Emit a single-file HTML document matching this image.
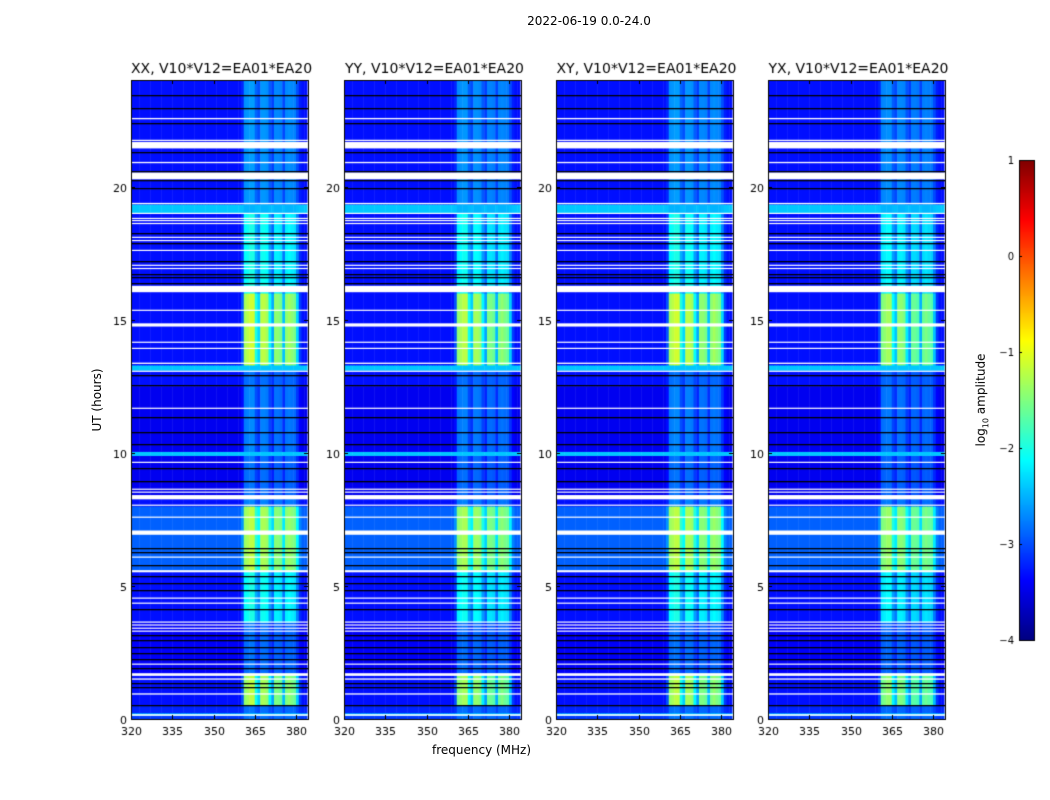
<!DOCTYPE html>
<html><head><meta charset="utf-8">
<style>
body{margin:0;background:#fff;}
#wrap{position:relative;width:1050px;height:800px;overflow:hidden;background:#fff;font-family:"DejaVu Sans","Liberation Sans",sans-serif;}
canvas{position:absolute;left:0;top:0;}
.t{position:absolute;white-space:nowrap;color:#000;}
</style></head>
<body>
<div id="wrap">
<canvas id="cv" width="1050" height="800"></canvas>
<div class="t" style="left:0;width:1178px;text-align:center;top:14px;font-size:12px">2022-06-19 0.0-24.0</div>
<div class="t" style="left:97px;top:400px;font-size:12px;transform:translate(-50%,-50%) rotate(-90deg);transform-origin:center">UT (hours)</div>
<div class="t" style="left:432px;top:743px;font-size:12px">frequency (MHz)</div>
<div class="t" style="left:982px;top:400px;font-size:12px;transform:translate(-50%,-50%) rotate(-90deg)">log<sub style="font-size:8px">10</sub> amplitude</div>
</div>
<script>
// ---- data ----
const panelTitles=["XX, V10*V12=EA01*EA20","YY, V10*V12=EA01*EA20","XY, V10*V12=EA01*EA20","YX, V10*V12=EA01*EA20"];
const panelBandScale=[1.0,0.95,1.0,0.9];
const freqTicks=[320,335,350,365,380];
const timeTicks=[0,5,10,15,20];
const cbTicks=[1,0,-1,-2,-3,-4];
const channels=[320,321,322,323,324,325,326,327,328,329,330,331,332,333,334,335,336,337,338,339,340,341,342,343,344,345,346,347,348,349,350,351,352,353,354,355,356,357,358,359,360,361,362,363,364,365,366,367,368,369,370,371,372,373,374,375,376,377,378,379,380,381,382,383];
const bandWeight=[0,0,0,0,0,0,0,0,0,0,0,0,0,0,0,0,0,0,0,0,0,0,0,0,0,0,0,0,0,0,0,0,0,0,0,0,0,0,0,0,0.15,0.9,0.95,1,1,0.6,0.45,0.95,0.95,0.9,0.55,0.35,0.85,0.85,0.8,0.4,0.85,0.9,0.85,0.8,0.45,0.1,0,0];
// time segments: [startUT, endUT, baseLog, bandLog]
const segStart=[0,0.15,0.23,0.53,1.73,3.64,5.59,8.0,8.4,9.9,10.05,12.5,13.1,13.3,16.0,16.25,19.02,19.34];
const segEnd=[0.15,0.23,0.53,1.73,3.64,5.59,8.0,8.4,9.9,10.05,12.5,13.1,13.3,16.0,16.25,19.02,19.34,24];
const segBase=[-3.1,-2.3,-3.2,-3.3,-3.4,-3.3,-2.9,-3.3,-3.45,-2.4,-3.45,-3.3,-2.4,-3.3,-3.3,-3.3,-2.4,-3.3];
const segBand=[-2.8,-2.3,-2.8,-1.2,-2.8,-2.0,-1.2,-2.7,-2.8,-2.4,-2.7,-2.8,-2.4,-1.1,-2.0,-2.0,-2.5,-2.6];
const whiteT=[0.15,0.94,1.50,1.67,2.06,3.30,3.41,3.53,3.64,4.35,4.54,5.55,6.08,7.0,7.58,8.03,8.33,8.52,8.63,9.64,11.67,13.06,13.36,13.92,14.15,14.8,15.35,16.15,17.04,16.92,17.60,17.97,18.09,18.61,18.72,18.80,18.99,19.36,20.4,20.90,21.55,21.73,22.55];
const whiteH=[0.06,0.05,0.05,0.1,0.04,0.04,0.04,0.04,0.04,0.04,0.04,0.08,0.04,0.16,0.04,0.04,0.16,0.04,0.04,0.04,0.04,0.04,0.05,0.04,0.04,0.12,0.04,0.24,0.04,0.04,0.04,0.04,0.04,0.04,0.04,0.04,0.04,0.05,0.26,0.05,0.24,0.05,0.05];
const blackT=[0.53,1.20,1.35,1.91,2.25,2.48,2.70,2.96,3.15,4.13,4.84,5.10,5.37,5.78,6.27,6.42,8.93,9.42,10.32,10.77,11.33,12.53,12.91,16.37,16.59,16.70,17.22,17.86,18.27,19.96,20.23,20.60,21.28,22.40,22.96,23.45];
// ---- drawing ----
const cv=document.getElementById('cv');const ctx=cv.getContext('2d');
const panelX=[131,344,556,768];const PW=177,PT=80,PH=639;
const FONT='"DejaVu Sans","Liberation Sans",sans-serif';
function jet(v){v=Math.max(0,Math.min(1,v));
 const c=x=>Math.max(0,Math.min(1,x));
 const r=c(1.5-Math.abs(4*v-3)),g=c(1.5-Math.abs(4*v-2)),b=c(1.5-Math.abs(4*v-1));
 return 'rgb('+Math.round(r*255)+','+Math.round(g*255)+','+Math.round(b*255)+')';}
const norm=l=>(l+4)/5;
const yOf=t=>PT+PH-t*(PH/24);
panelX.forEach((L,p)=>{
 const xOf=f=>L+(f-320)*2.75;
 for(let s=0;s<segStart.length;s++){
  const y0=yOf(segEnd[s]),y1=yOf(segStart[s]);
  for(let c=0;c<channels.length;c++){
   const band=segBase[s]+(segBand[s]-segBase[s])*panelBandScale[p];
   const v=segBase[s]+bandWeight[c]*(band-segBase[s]);
   ctx.fillStyle=jet(norm(v));
   const x0=xOf(channels[c]),x1=Math.min(L+PW,xOf(channels[c]+1));
   ctx.fillRect(x0,y0,x1-x0+0.5,y1-y0+0.5);
  }
 }
 ctx.fillStyle='#fff';
 for(let i=0;i<whiteT.length;i++){const h=Math.max(1.2,whiteH[i]*PH/24);ctx.fillRect(L,yOf(whiteT[i])-h/2,PW,h);}
 ctx.fillStyle='#000';
 for(let i=0;i<blackT.length;i++){ctx.fillRect(L,Math.round(yOf(blackT[i])),PW,1.3);}
 ctx.strokeStyle='#000';ctx.lineWidth=1;ctx.strokeRect(L+0.5,PT+0.5,PW,PH);
 ctx.fillStyle='#000';ctx.font='11px '+FONT;
 freqTicks.forEach(f=>{const x=Math.round(xOf(f))+0.5;ctx.beginPath();ctx.moveTo(x,PT+PH);ctx.lineTo(x,PT+PH-4);ctx.moveTo(x,PT);ctx.lineTo(x,PT+4);ctx.stroke();
  ctx.textAlign='center';ctx.fillText(String(f),x,PT+PH+16);});
 timeTicks.forEach(t=>{const y=Math.round(yOf(t))+0.5;ctx.beginPath();ctx.moveTo(L,y);ctx.lineTo(L+4,y);ctx.moveTo(L+PW,y);ctx.lineTo(L+PW-4,y);ctx.stroke();
  ctx.textAlign='right';ctx.fillText(String(t),L-4,y+4);});
 ctx.font='14px '+FONT;ctx.textAlign='center';
 ctx.fillText(panelTitles[p],L+PW/2+2,73);
});
// colorbar
const CX=1019,CW=15,CT=160,CH=480;
for(let i=0;i<CH;i++){ctx.fillStyle=jet(1-i/CH);ctx.fillRect(CX,CT+i,CW,1);}
ctx.strokeStyle='#000';ctx.strokeRect(CX+0.5,CT+0.5,CW,CH);
ctx.fillStyle='#000';ctx.font='10px '+FONT;ctx.textAlign='right';
cbTicks.forEach(v=>{const y=CT+CH*(1-norm(v));ctx.beginPath();ctx.moveTo(CX,Math.round(y)+0.5);ctx.lineTo(CX+3,Math.round(y)+0.5);ctx.stroke();
 ctx.fillText(v<0?'\u2212'+(-v):String(v),CX-5,y+4);});
</script>
</body></html>
